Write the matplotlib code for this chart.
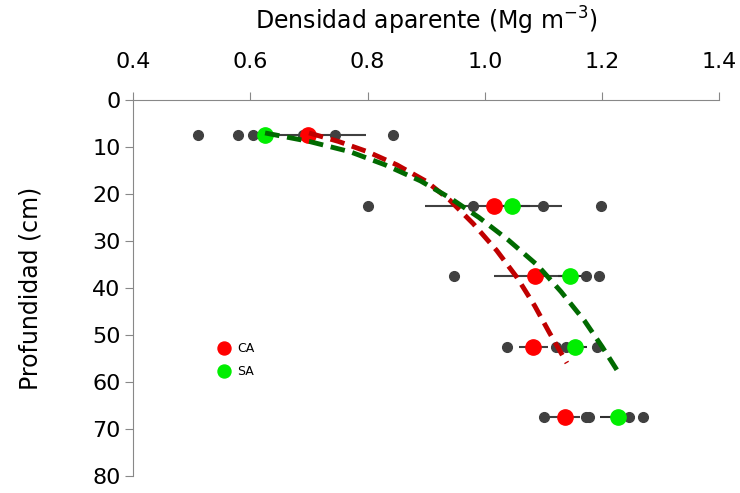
import matplotlib
matplotlib.use('Agg')
import matplotlib.pyplot as plt

# depths of sampling layers (cm)
depths = [7.5, 22.5, 37.5, 52.5, 67.5]

# means and error (std) per treatment
ca_mean = [0.698, 1.015, 1.086, 1.083, 1.137]
ca_err = [0.10, 0.117, 0.07, 0.025, 0.025]
sa_mean = [0.625, 1.047, 1.145, 1.154, 1.227]
sa_err = [0.02, 0.03, 0.02, 0.02, 0.03]

# individual samples (grey dots)
obs_x = [0.511, 0.579, 0.604, 0.69, 0.744, 0.843,
         0.80, 0.979, 1.015, 1.047, 1.10, 1.198,
         0.948, 1.086, 1.145, 1.172, 1.195,
         1.038, 1.083, 1.122, 1.139, 1.191,
         1.101, 1.137, 1.173, 1.178, 1.246, 1.270]
obs_y = [7.5] * 6 + [22.5] * 6 + [37.5] * 5 + [52.5] * 5 + [67.5] * 6

# fitted trend lines
ca_fit_x = [0.70, 0.75, 0.80, 0.85, 0.90, 0.94, 0.98, 1.02, 1.055, 1.085, 1.11, 1.14]
ca_fit_y = [7.0, 8.8, 11.0, 13.8, 17.3, 21.3, 26.3, 32.0, 37.8, 43.8, 49.5, 56.0]
sa_fit_x = [0.625, 0.70, 0.77, 0.83, 0.89, 0.94, 0.99, 1.04, 1.09, 1.13, 1.17, 1.20, 1.228]
sa_fit_y = [7.0, 8.8, 11.0, 13.8, 17.2, 20.8, 25.0, 29.8, 35.2, 40.8, 47.0, 52.5, 58.0]

fs_tick = 16
fs_lab = 17
fig = plt.figure(figsize=(7.4, 4.93), dpi=100)
ax = fig.add_axes([0.18, 0.035, 0.792, 0.762])

ax.plot(obs_x, obs_y, 'o', color='#404040', markersize=7, zorder=3)
ax.errorbar(ca_mean, depths, xerr=ca_err, fmt='none', ecolor='#404040', elinewidth=1.5, zorder=2)
ax.errorbar(sa_mean, depths, xerr=sa_err, fmt='none', ecolor='#303030', elinewidth=1.5, zorder=2)
ax.plot(ca_mean, depths, 'o', color='#ff0000', markersize=11, label='CA', zorder=4)
ax.plot(sa_mean, depths, 'o', color='#00ee00', markersize=11, label='SA', zorder=4)
ax.plot(ca_fit_x, ca_fit_y, '--', color='#c00000', linewidth=3.5, dashes=(3, 1.6), zorder=5)
ax.plot(sa_fit_x, sa_fit_y, '--', color='#006a00', linewidth=3.5, dashes=(3, 1.6), zorder=5)

ax.set_xlim(0.4, 1.4)
ax.set_ylim(80, 0)
ax.set_xticks([0.4, 0.6, 0.8, 1.0, 1.2, 1.4])
ax.set_xticklabels(['0.4', '0.6', '0.8', '1.0', '1.2', '1.4'])
ax.set_yticks(range(0, 81, 10))
ax.xaxis.tick_top()
ax.xaxis.set_label_position('top')
ax.tick_params(axis='both', labelsize=fs_tick, color='#888888', length=6)
ax.tick_params(axis='x', pad=14)
ax.tick_params(axis='y', pad=3)
ax.set_xlabel('Densidad aparente (Mg m$^{-3}$)', fontsize=fs_lab, labelpad=16)
ax.set_ylabel('Profundidad (cm)', fontsize=fs_lab, labelpad=36)
ax.spines['bottom'].set_visible(False)
ax.spines['right'].set_visible(False)
ax.spines['top'].set_color('#888888')
ax.spines['left'].set_color('#888888')

ax.legend(loc='lower left', bbox_to_anchor=(0.12, 0.23), frameon=False, fontsize=9,
          handletextpad=0.3, markerscale=0.85, handlelength=1.5, labelspacing=0.8)

fig.savefig('out.png', dpi=100)
